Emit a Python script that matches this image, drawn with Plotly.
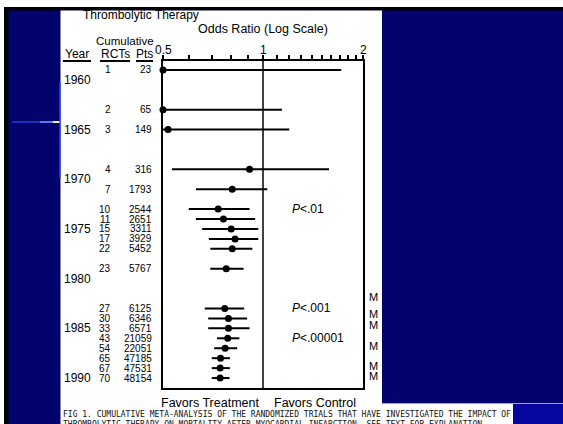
import math
import plotly.graph_objects as go

# ---------------- data ----------------
rcts = [1, 2, 3, 4, 7, 10, 11, 15, 17, 22, 23, 27, 30, 33, 43, 54, 65, 67, 70]
pts = [23, 65, 149, 316, 1793, 2544, 2651, 3311, 3929, 5452, 5767,
       6125, 6346, 6571, 21059, 22051, 47185, 47531, 48154]
row_year = [1959, 1963, 1965, 1969, 1971, 1973, 1974, 1975, 1976, 1977, 1979,
            1983, 1984, 1985, 1986, 1987, 1988, 1989, 1990]
odds = [0.50, 0.50, 0.518, 0.911, 0.808, 0.733, 0.760, 0.802, 0.824, 0.808, 0.775,
        0.767, 0.787, 0.787, 0.783, 0.769, 0.745, 0.743, 0.743]
ci_low = [0.50, 0.50, 0.50, 0.532, 0.628, 0.598, 0.628, 0.656, 0.687, 0.694, 0.694,
          0.668, 0.684, 0.684, 0.727, 0.713, 0.701, 0.701, 0.701]
ci_high = [1.72, 1.14, 1.20, 1.58, 1.03, 0.911, 0.947, 0.968, 0.968, 0.929, 0.874,
           0.878, 0.896, 0.911, 0.849, 0.836, 0.795, 0.795, 0.793]
year_labels = [1960, 1965, 1970, 1975, 1980, 1985, 1990]
x_tick_vals = [0.5, 0.6, 0.7, 0.8, 0.9, 1.0, 1.1, 1.2, 1.3, 1.4, 1.5, 1.6, 1.7, 1.8, 1.9, 2.0]
x_label_vals = [0.5, 1, 2]
x_label_text = ["0.5", "1", "2"]
p_text = ["<i>P</i><.01", "<i>P</i><.001", "<i>P</i><.00001"]
p_year = [1973, 1983, 1986]
m_year = [1981.8, 1983.6, 1984.7, 1986.8, 1988.8, 1989.8]
caption = ["FIG 1. CUMULATIVE META-ANALYSIS OF THE RANDOMIZED TRIALS THAT HAVE INVESTIGATED THE IMPACT OF",
           "THROMBOLYTIC THERAPY ON MORTALITY AFTER MYOCARDIAL INFARCTION. SEE TEXT FOR EXPLANATION."]

# ---------------- layout helpers ----------------
W, H = 563, 424
L, R, T, B = 163, 363, 61, 388
NAVY = "#03036e"
FONT = "Liberation Sans, Arial, Helvetica, sans-serif"


def X(px):
    return (px - L) / (R - L)


def Y(py):
    return (B - py) / (B - T)


fig = go.Figure()

fig.add_trace(go.Scatter(
    x=odds, y=row_year, mode="markers",
    marker=dict(color="black", size=7),
    error_x=dict(type="data", symmetric=False,
                 array=[h - o for h, o in zip(ci_high, odds)],
                 arrayminus=[o - lo for o, lo in zip(odds, ci_low)],
                 color="black", thickness=2, width=0),
    cliponaxis=False, hoverinfo="skip", showlegend=False,
))

shapes = []


def rect(x0, y0, x1, y1, color, layer="below"):
    shapes.append(dict(type="rect", xref="paper", yref="paper",
                       x0=X(x0), x1=X(x1), y0=Y(y0), y1=Y(y1),
                       fillcolor=color, line=dict(width=0), layer=layer))


def seg(x0, y0, x1, y1, color, width, layer="below"):
    shapes.append(dict(type="line", xref="paper", yref="paper",
                       x0=X(x0), x1=X(x1), y0=Y(y0), y1=Y(y1),
                       line=dict(color=color, width=width), layer=layer))


# slide background pieces
rect(0, 0, W, 8, "white")
rect(0, 7, W, 10.5, "black")
rect(0, 0, 4, H, "white")
rect(4, 7, 8.5, H, "black")
rect(60.5, 10.5, 382, H, "white")
rect(382, 403, 513, H, "white")
rect(513, 404, W, H, "#0707a0")
seg(382, 403.5, W, 403.5, "#a0a0d0", 1)
seg(12, 122, 40, 122, "#1c2fb4", 2)
seg(40, 122, 53, 122, "#5a78f0", 2)
seg(53, 122, 60.5, 122, "#f4f2d8", 2)
seg(60, 82, 60, 178, "#2a48e0", 1.5)

# header underlines
seg(63, 61, 91, 61, "black", 2)
seg(100, 61, 130, 61, "black", 2)
seg(136, 61, 153, 61, "black", 2)

# vertical line at OR = 1
shapes.append(dict(type="line", xref="x", yref="paper", x0=1, x1=1, y0=0, y1=1,
                   line=dict(color="black", width=1.5), layer="above"))

ann = []


def txt(text, x, y, size, xanchor="center", xref="paper", yref="paper", font=FONT, color="black"):
    ann.append(dict(text=text, x=x, y=y, xref=xref, yref=yref,
                    xanchor=xanchor, yanchor="middle", showarrow=False,
                    font=dict(family=font, size=size, color=color)))


txt("Thrombolytic Therapy", X(141), Y(14.5), 12)
txt("Odds Ratio (Log Scale)", X(263), Y(29), 12.5)
txt("Cumulative", X(125), Y(41), 11.5)
txt("Year", X(77), Y(54), 12)
txt("RCTs", X(115), Y(54), 12)
txt("Pts", X(144), Y(54), 12)
for v, t in zip(x_label_vals, x_label_text):
    # annotations on a log axis take log10 positions
    txt(t, math.log10(v), Y(50), 12, xref="x")

for yr in year_labels:
    txt(str(yr), X(62), yr, 12, xanchor="left", yref="y")
for r, p, yr in zip(rcts, pts, row_year):
    txt(str(r), X(112.5), yr, 10, xanchor="right", yref="y")
    txt(str(p), X(153.5), yr, 10, xanchor="right", yref="y")
for t, yr in zip(p_text, p_year):
    txt(t, X(290), yr, 12, xanchor="left", yref="y")
for yr in m_year:
    txt("M", X(373.5), yr, 11, yref="y")

txt("Favors Treatment", X(210), Y(403), 12.5)
txt("Favors Control", X(315), Y(403), 12.5)
txt(caption[0], X(61), Y(414), 8, xanchor="left", font="DejaVu Sans Mono, monospace", color="#111")
txt(caption[1], X(61), Y(424), 8, xanchor="left", font="DejaVu Sans Mono, monospace", color="#111")

fig.update_layout(
    width=W, height=H,
    margin=dict(l=L, r=W - R, t=T, b=H - B, pad=0),
    paper_bgcolor=NAVY, plot_bgcolor="white",
    shapes=shapes, annotations=ann,
    font=dict(family=FONT, color="black"),
    xaxis=dict(type="log", range=[-0.30103, 0.30103], side="top",
               tickvals=x_tick_vals, showticklabels=False,
               ticks="outside", ticklen=4, tickwidth=1.5, tickcolor="black",
               showline=True, linecolor="black", linewidth=2, mirror=True,
               showgrid=False, zeroline=False, fixedrange=True),
    yaxis=dict(range=[1991.0, 1958.1], showticklabels=False, ticks="",
               showline=True, linecolor="black", linewidth=2, mirror=True,
               showgrid=False, zeroline=False, fixedrange=True),
)

fig.write_html("out.html", config={"displayModeBar": False},
               post_script="document.body.style.margin='0px';document.body.style.padding='0px';document.body.style.overflow='hidden';")
